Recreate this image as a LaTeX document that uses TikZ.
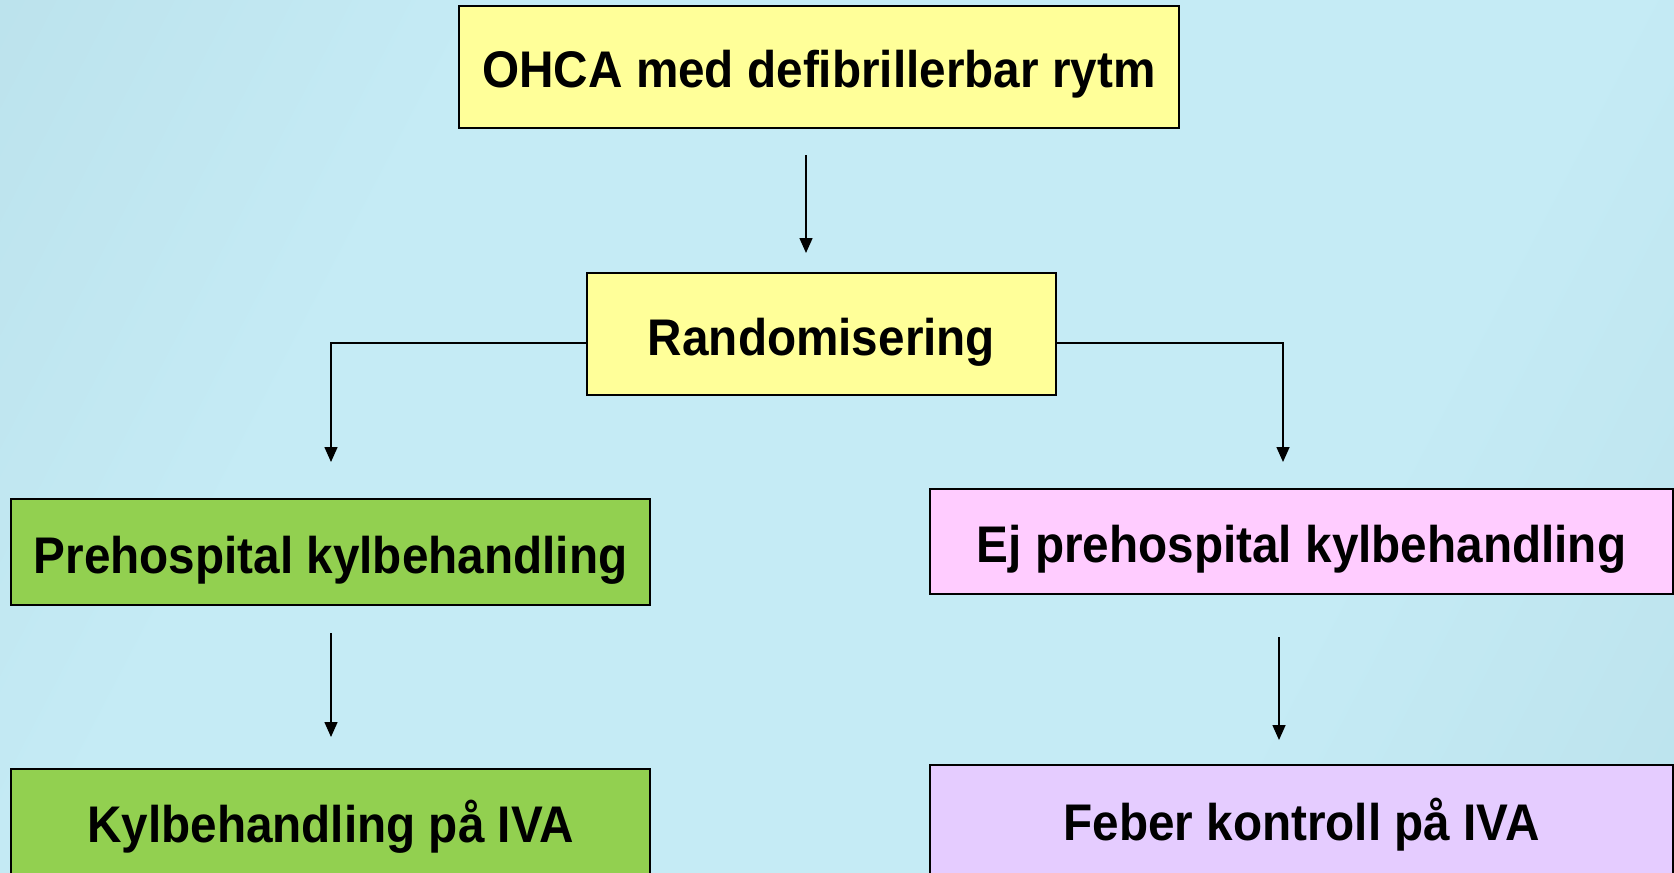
\documentclass[tikz,border=0pt]{standalone}
\usepackage{fontspec}
\setmainfont{Liberation Sans}
\usetikzlibrary{arrows.meta}
\definecolor{bgdark}{HTML}{B3DAE4}
\definecolor{bglight}{HTML}{C5EBF5}
\definecolor{boxyellow}{HTML}{FFFF99}
\definecolor{boxgreen}{HTML}{92D050}
\definecolor{boxpink}{HTML}{FFCCFF}
\definecolor{boxlilac}{HTML}{E5CCFF}
\pgfdeclarehorizontalshading{bgshade}{100bp}{color(0bp)=(bgdark); color(32bp)=(bglight); color(68bp)=(bglight); color(100bp)=(bgdark)}
\newcommand{\tallbox}[1]{\scalebox{1}[1.08]{#1}}
\tikzset{
  boxnode/.style={draw=black, line width=1pt, inner sep=0pt, minimum width=#1,
    font=\fontsize{23.85}{28}\selectfont\bfseries,
    text height=21pt, text depth=0pt},
  conn/.style={line width=0.75pt, black},
  arr/.style={conn, -{Triangle[length=7.5pt,width=6.5pt]}}
}
\begin{document}
\begin{tikzpicture}[x=0.5pt,y=-0.5pt]
\useasboundingbox (0,0) rectangle (1674,872);
\shade[shading=bgshade, shading angle=-27.5] (0,0) rectangle (1674,872);
% nodes
\node[boxnode=360pt, fill=boxyellow, minimum height=61pt] (ohca) at (819,67) {\tallbox{OHCA med defibrillerbar rytm}};
\node[boxnode=234.5pt, fill=boxyellow, minimum height=61pt] (rand) at (821.5,334) {\tallbox{Randomisering}};
\node[boxnode=319.5pt, fill=boxgreen, minimum height=53pt] (pre) at (330.5,552) {\tallbox{Prehospital kylbehandling}};
\node[boxnode=371.5pt, fill=boxpink, minimum height=52.5pt] (ejpre) at (1301.5,541.5) {\tallbox{Ej prehospital kylbehandling}};
\node[boxnode=319.5pt, fill=boxgreen, minimum height=52.5pt] (kyl) at (330.5,821.5) {\tallbox{Kylbehandling på IVA}};
\node[boxnode=371.5pt, fill=boxlilac, minimum height=54.5pt] (feber) at (1301.5,819.5) {\tallbox{Feber kontroll på IVA}};
% connector ends
\coordinate (a1s) at (806,155);
\coordinate (a1e) at (806,253);
\coordinate (rl) at (587,343);
\coordinate (rr) at (1056,343);
\coordinate (le) at (331,462);
\coordinate (re) at (1283,462);
\coordinate (a2s) at (331,633);
\coordinate (a2e) at (331,737);
\coordinate (a3s) at (1279,637);
\coordinate (a3e) at (1279,740);
% connectors
\draw[arr] (a1s) -- (a1e);
\draw[arr] (rl) -| (le);
\draw[arr] (rr) -| (re);
\draw[arr] (a2s) -- (a2e);
\draw[arr] (a3s) -- (a3e);
\end{tikzpicture}
\end{document}
